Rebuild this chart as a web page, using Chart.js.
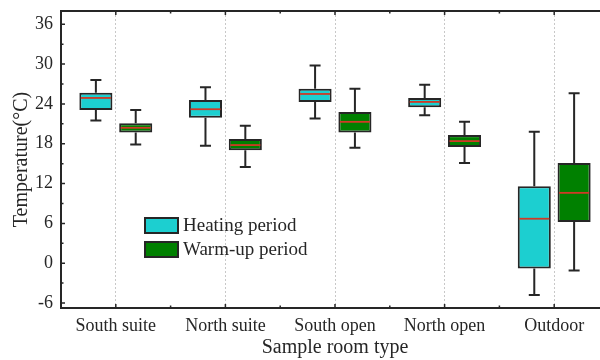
<!DOCTYPE html>
<html>
<head>
<meta charset="utf-8">
<script src="https://cdn.jsdelivr.net/npm/chart.js@4.4.0/dist/chart.umd.min.js"></script>
<style>
  html, body { margin: 0; padding: 0; background: #fff; overflow: hidden; }
  #wrap { width: 620px; height: 360px; }
</style>
</head>
<body>
<div id="wrap"><canvas id="graph"></canvas></div>
<script>
// =========================== Data
const categories = ['South suite', 'North suite', 'South open', 'North open', 'Outdoor']
const yTicks = [-6, 0, 6, 12, 18, 24, 30, 36]

const heatMin = [21.5, 17.7, 21.8, 22.3, -4.8]
const heatQ1  = [23.1, 21.9, 24.3, 23.5, -0.8]
const heatMed = [24.9, 23.2, 25.5, 24.3, 6.7]
const heatQ3  = [25.7, 24.6, 26.3, 24.9, 11.6]
const heatMax = [27.6, 26.5, 29.8, 26.9, 19.8]

const warmMin = [17.9, 14.5, 17.4, 15.1, -1.1]
const warmQ1  = [19.7, 17.0, 19.7, 17.5, 6.2]
const warmMed = [20.4, 17.8, 21.3, 18.4, 10.6]
const warmQ3  = [21.1, 18.7, 22.8, 19.3, 15.1]
const warmMax = [23.1, 20.7, 26.3, 21.3, 25.6]

const series = [
    {label: 'Heating period', color: '#1ccfd0', min: heatMin, q1: heatQ1, med: heatMed, q3: heatQ3, max: heatMax},
    {label: 'Warm-up period', color: '#008000', min: warmMin, q1: warmQ1, med: warmMed, q3: warmQ3, max: warmMax}
]

const FONT = "'Liberation Serif', 'Times New Roman', serif"
const INK = '#262626'

// =========================== Plugin: whiskers, medians, frame ticks, legend
const boxExtras = {
    id: 'boxExtras',
    afterDatasetsDraw(chart){
        const ctx = chart.ctx
        const ys = chart.scales.y
        const xs = chart.scales.x
        const area = chart.chartArea
        ctx.save()

        series.forEach((s, i) => {
            const meta = chart.getDatasetMeta(i)
            meta.data.forEach((bar, j) => {
                const x = bar.x
                const half = bar.width / 2
                const cap = 5.5
                ctx.strokeStyle = INK
                ctx.lineWidth = 2
                ctx.beginPath()
                ctx.moveTo(x, ys.getPixelForValue(s.q3[j]))
                ctx.lineTo(x, ys.getPixelForValue(s.max[j]))
                ctx.moveTo(x - cap, ys.getPixelForValue(s.max[j]))
                ctx.lineTo(x + cap, ys.getPixelForValue(s.max[j]))
                ctx.moveTo(x, ys.getPixelForValue(s.q1[j]))
                ctx.lineTo(x, ys.getPixelForValue(s.min[j]))
                ctx.moveTo(x - cap, ys.getPixelForValue(s.min[j]))
                ctx.lineTo(x + cap, ys.getPixelForValue(s.min[j]))
                ctx.stroke()

                ctx.strokeStyle = '#cf3a26'
                ctx.lineWidth = 1.8
                ctx.beginPath()
                const my = ys.getPixelForValue(s.med[j])
                ctx.moveTo(x - half + 1.5, my)
                ctx.lineTo(x + half - 1.5, my)
                ctx.stroke()
            })
        })

        // frame top line + inward ticks
        ctx.strokeStyle = INK
        ctx.lineWidth = 2
        ctx.beginPath()
        ctx.moveTo(area.left - 1, area.top)
        ctx.lineTo(area.right + 20, area.top)
        ctx.stroke()

        ctx.lineWidth = 1.5
        ctx.beginPath()
        yTicks.forEach(v => {
            const py = ys.getPixelForValue(v)
            ctx.moveTo(area.left, py)
            ctx.lineTo(area.left + 4, py)
            const pm = ys.getPixelForValue(v + 3)
            if(pm > area.top + 2){
                ctx.moveTo(area.left, pm)
                ctx.lineTo(area.left + 2.5, pm)
            }
        })
        categories.forEach((c, i) => {
            const px = xs.getPixelForValue(i)
            ctx.moveTo(px, area.bottom)
            ctx.lineTo(px, area.bottom - 4)
            ctx.moveTo(px, area.top)
            ctx.lineTo(px, area.top + 4)
            const pm = xs.getPixelForValue(i + 0.5)
            ctx.moveTo(pm, area.bottom)
            ctx.lineTo(pm, area.bottom - 2.5)
            ctx.moveTo(pm, area.top)
            ctx.lineTo(pm, area.top + 2.5)
        })
        ctx.stroke()

        // legend inside plot
        const lx = area.left + 84
        let ly = area.top + 207
        ctx.font = '19px ' + FONT
        ctx.textBaseline = 'middle'
        series.forEach(s => {
            ctx.fillStyle = s.color
            ctx.fillRect(lx, ly, 33, 15)
            ctx.strokeStyle = INK
            ctx.lineWidth = 2
            ctx.strokeRect(lx, ly, 33, 15)
            ctx.fillStyle = INK
            ctx.fillText(s.label, lx + 38, ly + 8)
            ly += 24
        })
        ctx.restore()
    }
}

// =========================== Chart
const cv = document.getElementById('graph')
new Chart(cv, {
    type: 'bar',
    data: {
        labels: categories,
        datasets: series.map(s => ({
            label: s.label,
            data: s.q1.map((v, i) => [v, s.q3[i]]),
            backgroundColor: s.color,
            borderColor: INK,
            borderWidth: 2,
            borderSkipped: false,
            categoryPercentage: 0.727,
            barPercentage: 0.83
        }))
    },
    options: {
        responsive: true,
        maintainAspectRatio: false,
        animation: false,
        layout: {padding: {top: 11, right: 11, left: 0, bottom: 0}},
        plugins: {
            legend: {display: false},
            tooltip: {enabled: false}
        },
        scales: {
            x: {
                grid: {
                    offset: false,
                    drawTicks: false,
                    color: '#c8c8c8',
                    lineWidth: 1
                },
                border: {display: true, color: INK, width: 2, dash: [2, 2]},
                ticks: {color: INK, font: {family: FONT, size: 18}, padding: 7},
                title: {display: true, text: 'Sample room type', color: INK, font: {family: FONT, size: 20}, padding: {top: 0, bottom: 0}},
                afterFit(scale){ scale.height = 52 }
            },
            y: {
                min: -6.75,
                max: 38,
                afterBuildTicks(scale){ scale.ticks = yTicks.map(v => ({value: v})) },
                grid: {display: false, drawTicks: false},
                border: {display: true, color: INK, width: 2},
                ticks: {color: INK, font: {family: FONT, size: 18}, padding: 8},
                title: {display: true, text: 'Temperature(°C)', color: INK, font: {family: FONT, size: 20}, padding: {top: 10, bottom: 0}},
                afterFit(scale){
                    scale.width = 61
                    scale.paddingTop = 0
                    scale.paddingBottom = 0
                }
            }
        }
    },
    plugins: [boxExtras]
})
</script>
</body>
</html>
